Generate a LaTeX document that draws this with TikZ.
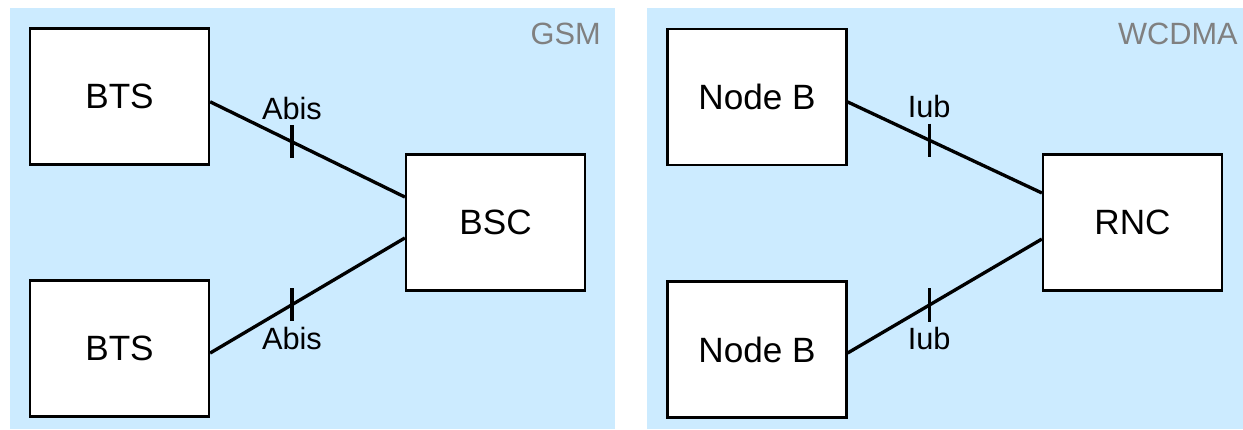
\documentclass[tikz,border=0pt]{standalone}
\usepackage{fontspec}
\setmainfont{Liberation Sans}
\usetikzlibrary{positioning}
\definecolor{panelblue}{RGB}{204,235,255}
\definecolor{tagGray}{RGB}{128,128,128}

\begin{document}
\begin{tikzpicture}[x=0.02cm,y=-0.02cm,
        elem/.style={draw, line width=1.3pt, fill=white, minimum width=3.58cm, minimum height=2.72cm, inner sep=0pt, font=\fontsize{20}{22}\selectfont},
        link/.style={line width=1.9pt},
        tickmark/.style={inner sep=0pt, minimum width=0pt, minimum height=0.6cm},
        iface/.style={inner sep=1pt, font=\fontsize{17.5}{19}\selectfont},
        tag/.style={anchor=north east, inner sep=0pt, text=tagGray, font=\fontsize{17.5}{19}\selectfont}]

            \useasboundingbox (0,0) rectangle (1243,429);

            % the two panels
            \fill[panelblue] (10,8) rectangle (615,429);
            \fill[panelblue] (647,8) rectangle (1243,429);

            \node[tag] (gsm) at (601,23) {GSM};
            \node[tag] (wcdma) at (1238,23) {WCDMA};

            % GSM side
            \node[elem] (btsA) at (119.5,96.5) {BTS};
            \node[elem] (btsB) at (119.5,348.5) {BTS};
            \node[elem] (bsc) at (495.5,222.5) {BSC};

            \draw[link] ([yshift=-3pt]btsA.east) -- ([yshift=14.5pt]bsc.west) node[tickmark,pos=0.42] (abisTA) {};
            \draw[link] ([yshift=-2.6pt]btsB.east) -- ([yshift=-8.8pt]bsc.west) node[tickmark,pos=0.42] (abisTB) {};
            \draw[link] (abisTA.north) -- (abisTA.south);
            \draw[link] (abisTB.north) -- (abisTB.south);
            \node[iface, above=2pt of abisTA] (abisA) {Abis};
            \node[iface, below=2pt of abisTB] (abisB) {Abis};

            % WCDMA side
            \node[elem] (nodebA) at (757,97) {Node B};
            \node[elem] (nodebB) at (757,349.5) {Node B};
            \node[elem] (rnc) at (1132.5,222.5) {RNC};

            \draw[link] ([yshift=-2.8pt]nodebA.east) -- ([yshift=16.8pt]rnc.west) node[tickmark,pos=0.42] (iubTA) {};
            \draw[link] ([yshift=-2pt]nodebB.east) -- ([yshift=-9.4pt]rnc.west) node[tickmark,pos=0.42] (iubTB) {};
            \draw[link] (iubTA.north) -- (iubTA.south);
            \draw[link] (iubTB.north) -- (iubTB.south);
            \node[iface, above=2pt of iubTA] (iubA) {Iub};
            \node[iface, below=2pt of iubTB] (iubB) {Iub};
        \end{tikzpicture}
\end{document}
